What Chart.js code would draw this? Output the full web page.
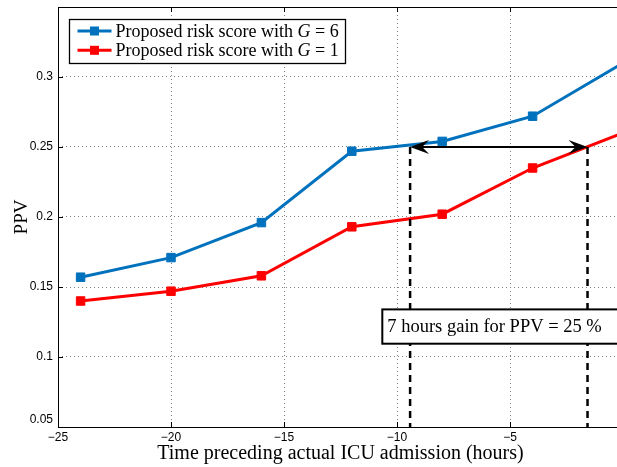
<!DOCTYPE html>
<html><head><meta charset="utf-8">
<script src="https://cdn.jsdelivr.net/npm/chart.js@4/dist/chart.umd.min.js"></script>
<style>
html,body{margin:0;padding:0;background:#fff;overflow:hidden;width:617px;height:467px}
#wrap{position:relative;width:640px;height:467px}
canvas{display:block}
</style></head>
<body><div id="wrap"><canvas id="c" width="640" height="467"></canvas></div>
<script>
// ---- data ----
const hours = [-24, -20, -16, -12, -8, -4, 0];
const ppvG6 = [0.157, 0.171, 0.196, 0.247, 0.254, 0.272, 0.310];
const ppvG1 = [0.140, 0.147, 0.158, 0.193, 0.202, 0.235, 0.260];
const seriesNames = ['Proposed risk score with G = 6', 'Proposed risk score with G = 1'];
const xTicks = [-25, -20, -15, -10, -5, 0];
const xTickLabels = ['\u221225', '\u221220', '\u221215', '\u221210', '\u22125', '0'];
const yTicks = [0.05, 0.1, 0.15, 0.2, 0.25, 0.3, 0.35];
const yTickLabels = ['0.05', '0.1', '0.15', '0.2', '0.25', '0.3', ''];
const gainPPV = 0.25;
const gainFrom = -9.42;
const gainTo = -1.57;
const gainText = '7 hours gain for PPV = 25 %';
const xTitle = 'Time preceding actual ICU admission (hours)';
const yTitle = 'PPV';

const BLUE = '#0072BD', RED = '#FF0000';
const SERIF = '"Liberation Serif", "Times New Roman", serif';
const SANS = '"Liberation Sans", Arial, sans-serif';

function idx(arr, v) { return arr.findIndex(t => Math.abs(t - v) < 1e-9); }

const decorPlugin = {
  id: 'decor',
  afterDatasetsDraw(chart) {
    const ctx = chart.ctx, a = chart.chartArea;
    const xs = chart.scales.x, ys = chart.scales.y;
    ctx.save();
    // frame
    ctx.strokeStyle = '#000'; ctx.lineWidth = 1; ctx.setLineDash([]);
    ctx.strokeRect(Math.round(a.left) + 0.5, Math.round(a.top) + 0.5,
      Math.round(a.right - a.left), Math.round(a.bottom - a.top));
    // inward ticks
    ctx.beginPath();
    xTicks.forEach(v => {
      const px = Math.round(xs.getPixelForValue(v)) + 0.5;
      ctx.moveTo(px, a.bottom); ctx.lineTo(px, a.bottom - 5);
      ctx.moveTo(px, a.top); ctx.lineTo(px, a.top + 5);
    });
    yTicks.forEach(v => {
      const py = Math.round(ys.getPixelForValue(v)) + 0.5;
      ctx.moveTo(a.left, py); ctx.lineTo(a.left + 5, py);
      ctx.moveTo(a.right, py); ctx.lineTo(a.right - 5, py);
    });
    ctx.stroke();

    // dashed verticals
    const yG = ys.getPixelForValue(gainPPV);
    const x1 = xs.getPixelForValue(gainFrom), x2 = xs.getPixelForValue(gainTo);
    ctx.lineWidth = 2.5; ctx.setLineDash([7, 5]);
    ctx.beginPath();
    ctx.moveTo(x1, yG); ctx.lineTo(x1, a.bottom);
    ctx.moveTo(x2, yG); ctx.lineTo(x2, a.bottom);
    ctx.stroke();
    ctx.setLineDash([]);
    // double arrow
    ctx.lineWidth = 2;
    ctx.beginPath(); ctx.moveTo(x1 + 8, yG); ctx.lineTo(x2 - 8, yG); ctx.stroke();
    ctx.fillStyle = '#000';
    const head = (x, dir) => {
      ctx.beginPath();
      ctx.moveTo(x, yG);
      ctx.lineTo(x - dir * 19, yG - 7);
      ctx.lineTo(x - dir * 12, yG);
      ctx.lineTo(x - dir * 19, yG + 7);
      ctx.closePath(); ctx.fill();
    };
    head(x1, -1); head(x2, 1);

    // text box
    const bx = xs.getPixelForValue(-10.65), bx2 = xs.getPixelForValue(-0.1);
    const by = ys.getPixelForValue(0.134), by2 = ys.getPixelForValue(0.1095);
    ctx.fillStyle = '#fff';
    ctx.fillRect(bx, by, bx2 - bx, by2 - by);
    ctx.lineWidth = 2; ctx.strokeStyle = '#000';
    ctx.strokeRect(bx, by, bx2 - bx, by2 - by);
    ctx.fillStyle = '#000';
    ctx.font = '18.5px ' + SERIF;
    ctx.textBaseline = 'alphabetic'; ctx.textAlign = 'left';
    ctx.fillText(gainText, bx + 5, by + 22.5);
    ctx.restore();
  },
  afterDraw(chart) {
    // legend
    const ctx = chart.ctx, a = chart.chartArea;
    const L = a.left + 11.5, T = a.top + 12.5, W = 276, H = 44;
    ctx.save();
    ctx.fillStyle = '#fff'; ctx.fillRect(L, T, W, H);
    ctx.strokeStyle = '#000'; ctx.lineWidth = 1.3; ctx.strokeRect(L, T, W, H);
    chart.data.datasets.forEach((ds, i) => {
      const y = T + 11.5 + i * 19.3;
      ctx.strokeStyle = ds.borderColor; ctx.lineWidth = 3;
      ctx.beginPath(); ctx.moveTo(L + 8, y); ctx.lineTo(L + 42, y); ctx.stroke();
      ctx.fillStyle = ds.borderColor; ctx.fillRect(L + 25 - 4.5, y - 4.5, 9, 9);
      const m = ds.label.match(/^(.*\s)G(\s.*)$/);
      let x = L + 46;
      ctx.fillStyle = '#000'; ctx.textBaseline = 'middle'; ctx.textAlign = 'left';
      const parts = m ? [[m[1], ''], ['G', 'italic '], [m[2], '']] : [[ds.label, '']];
      parts.forEach(([t, st]) => {
        ctx.font = st + '18px ' + SERIF;
        ctx.fillText(t, x, y + 1);
        x += ctx.measureText(t).width;
      });
    });
    ctx.restore();
  }
};

const mk = (ys) => hours.map((h, i) => ({ x: h, y: ys[i] }));

new Chart(document.getElementById('c'), {
  type: 'line',
  data: {
    datasets: [
      { label: seriesNames[0], data: mk(ppvG6), borderColor: BLUE, backgroundColor: BLUE,
        pointBackgroundColor: BLUE, pointBorderColor: BLUE },
      { label: seriesNames[1], data: mk(ppvG1), borderColor: RED, backgroundColor: RED,
        pointBackgroundColor: RED, pointBorderColor: RED }
    ]
  },
  options: {
    responsive: false, animation: false,
    layout: { padding: { top: 5, right: 17, left: 0, bottom: 0 } },
    elements: {
      line: { borderWidth: 3, tension: 0 },
      point: { pointStyle: 'rect', radius: 6, borderWidth: 1, hoverRadius: 6 }
    },
    plugins: { legend: { display: false }, tooltip: { enabled: false } },
    scales: {
      x: {
        type: 'linear', min: -25, max: 0,
        afterFit: s => { s.height = 40; s.paddingLeft = 0; s.paddingRight = 0; },
        afterBuildTicks: s => { s.ticks = xTicks.map(v => ({ value: v })); },
        ticks: {
          autoSkip: false, maxRotation: 0, padding: 3, color: '#000',
          font: { family: SANS, size: 12 },
          callback: v => { const i = idx(xTicks, v); return i >= 0 ? xTickLabels[i] : ''; }
        },
        grid: {
          drawTicks: false, lineWidth: 1,
          color: c => (c.tick && (c.tick.value === -25 || c.tick.value === 0)) ? 'rgba(0,0,0,0)' : '#808080'
        },
        border: { display: false, dash: [1, 3] },
        title: { display: true, text: xTitle, color: '#000',
          font: { family: SERIF, size: 20, lineHeight: 1 }, padding: { top: 0, bottom: 3 } }
      },
      y: {
        type: 'linear', min: 0.05, max: 0.35,
        afterFit: s => { s.width = 58; s.paddingTop = 0; s.paddingBottom = 0; },
        afterBuildTicks: s => { s.ticks = yTicks.map(v => ({ value: v })); },
        ticks: {
          autoSkip: false, padding: 5, color: '#000',
          font: { family: SANS, size: 12 },
          callback: v => {
            const i = idx(yTicks, v);
            if (i < 0) return '';
            return i === 0 ? [yTickLabels[i], ''] : yTickLabels[i];
          }
        },
        grid: {
          drawTicks: false, lineWidth: 1,
          color: c => (c.tick && (Math.abs(c.tick.value - 0.05) < 1e-9 || Math.abs(c.tick.value - 0.35) < 1e-9)) ? 'rgba(0,0,0,0)' : '#808080'
        },
        border: { display: false, dash: [1, 3] },
        title: { display: true, text: yTitle, color: '#000',
          font: { family: SERIF, size: 19, lineHeight: 1 }, padding: { top: 13, bottom: 0 } }
      }
    }
  },
  plugins: [decorPlugin]
});
</script>
</body></html>
